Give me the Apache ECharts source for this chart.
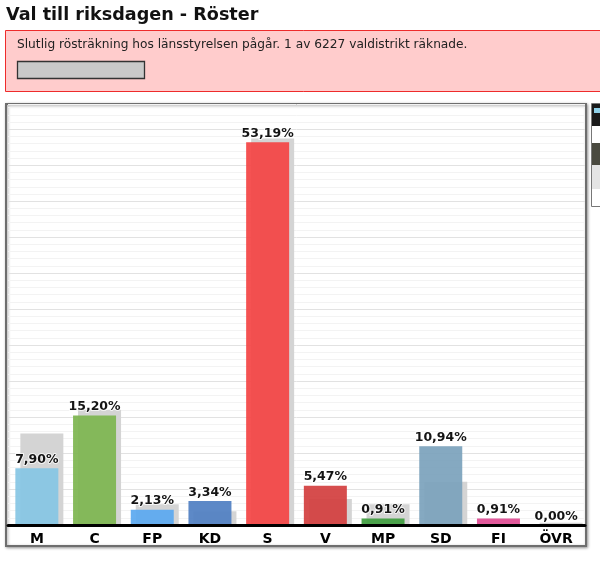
<!DOCTYPE html>
<html>
<head>
<meta charset="utf-8">
<script src="https://cdn.jsdelivr.net/npm/echarts@6/dist/echarts.min.js"></script>
<style>
html,body{margin:0;padding:0;background:#fff;}
#chart{width:600px;height:562px;}
</style>
</head>
<body>
<div id="chart"></div>
<script>
var categories = ['M', 'C', 'FP', 'KD', 'S', 'V', 'MP', 'SD', 'FI', 'ÖVR'];
var votes = [7.90, 15.20, 2.13, 3.34, 53.19, 5.47, 0.91, 10.94, 0.91, 0.00];
var previousVotes = [12.7, 16.0, 2.9, 1.9, 53.7, 3.6, 2.9, 6.0, 0.0, 0.3];
var partyColors = ['#86c5e4', '#7db54f', '#5aa8f0', '#4f7fc2', '#f44343', '#d23e3e', '#3e9c3e', '#7ba2bc', '#e04b93', '#999999'];
var titleText = 'Val till riksdagen - Röster';
var bannerText = 'Slutlig rösträkning hos länsstyrelsen pågår. 1 av 6227 valdistrikt räknade.';

var yMax = 58.5;
var chart = echarts.init(document.getElementById('chart'), null, {renderer: 'canvas'});

function fmt(v) { return v.toFixed(2).replace('.', ',') + '%'; }

var option = {
  animation: false,
  backgroundColor: '#ffffff',
  title: {
    text: titleText,
    left: 1, top: 1,
    textStyle: {fontFamily: 'DejaVu Sans', fontWeight: 'bold', fontSize: 17.6, color: '#111'}
  },
  graphic: [
    {type: 'rect', z: -10, shape: {x: 5.5, y: 30.5, width: 600, height: 61}, style: {fill: '#ffcccc', stroke: '#ee2b2b', lineWidth: 1}},
    {type: 'text', z: -9, left: 17, top: 39, style: {text: bannerText, font: '12.2px "DejaVu Sans"', fill: '#222'}},
    {type: 'rect', z: -9, shape: {x: 17.5, y: 61.5, width: 127, height: 17}, style: {fill: '#c9c9c9', stroke: '#333', lineWidth: 1.3}},
    {type: 'rect', z: -10, shape: {x: 6, y: 104, width: 580, height: 442}, style: {fill: '#ffffff', stroke: '#6e6e6e', lineWidth: 2, shadowBlur: 3, shadowColor: 'rgba(0,0,0,0.35)', shadowOffsetX: 1, shadowOffsetY: 1}},
    {type: 'rect', z: -10, shape: {x: 591.5, y: 103.5, width: 20, height: 103}, style: {fill: '#ffffff', stroke: '#777', lineWidth: 1}},
    {type: 'rect', z: -9, shape: {x: 592, y: 104, width: 20, height: 22}, style: {fill: '#1a1a1a'}},
    {type: 'rect', z: -9, shape: {x: 592, y: 143, width: 20, height: 22}, style: {fill: '#4a4a40'}},
    {type: 'rect', z: -9, shape: {x: 592, y: 165, width: 20, height: 24}, style: {fill: '#e4e4e4'}},
    {type: 'rect', z: -9, shape: {x: 594, y: 108, width: 6, height: 5}, style: {fill: '#8fd0e8'}}
  ],
  grid: [
    {left: 8, right: 15, top: 104, bottom: 37, containLabel: false},
    {left: 13, right: 10, top: 104, bottom: 37, containLabel: false}
  ],
  xAxis: [
    {
      type: 'category', gridIndex: 0, data: categories,
      axisLine: {lineStyle: {color: '#000', width: 3}},
      axisTick: {show: false},
      axisLabel: {margin: 7, fontFamily: 'DejaVu Sans', fontWeight: 'bold', fontSize: 14, color: '#000'},
      z: 10
    },
    {
      type: 'category', gridIndex: 1, data: categories, show: false
    }
  ],
  yAxis: [
    {
      type: 'value', gridIndex: 0, min: 0, max: yMax, interval: 1,
      axisLine: {show: false}, axisTick: {show: false}, axisLabel: {show: false},
      splitLine: {show: true, lineStyle: {color: ['#e2e2e2', '#f3f3f3', '#f3f3f3', '#f3f3f3', '#f3f3f3'], width: 1}}
    },
    {
      type: 'value', gridIndex: 1, min: 0, max: yMax, show: false,
      splitLine: {show: false}
    }
  ],
  series: [
    {
      type: 'bar', name: 'Föregående', xAxisIndex: 1, yAxisIndex: 1, z: 2,
      data: previousVotes, barWidth: 43,
      itemStyle: {color: '#d4d4d4'},
      silent: true
    },
    {
      type: 'bar', name: 'Röster', xAxisIndex: 0, yAxisIndex: 0, z: 3,
      data: votes.map(function (v, i) { return {value: v, itemStyle: {color: partyColors[i]}}; }),
      barWidth: 43,
      itemStyle: {opacity: 0.92},
      label: {
        show: true, position: 'top', distance: 2,
        formatter: function (p) { return fmt(p.value); },
        fontFamily: 'DejaVu Sans', fontWeight: 'bold', fontSize: 12.5, color: '#000',
        textBorderColor: 'rgba(255,255,255,0.8)', textBorderWidth: 2
      }
    }
  ]
};
chart.setOption(option);
</script>
</body>
</html>
